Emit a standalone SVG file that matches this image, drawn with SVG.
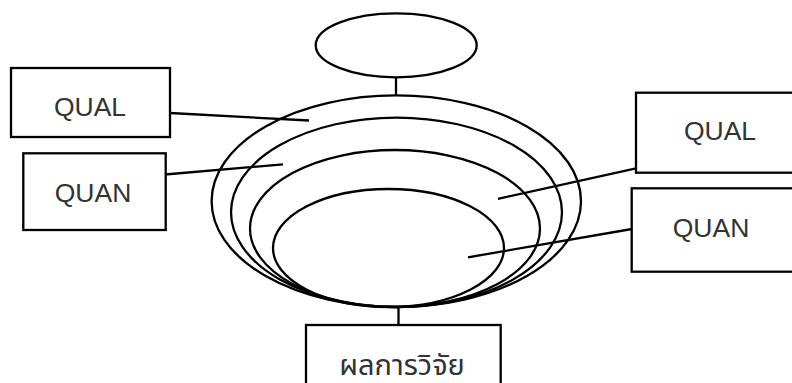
<svg xmlns="http://www.w3.org/2000/svg" width="792" height="383" viewBox="0 0 792 383">
<style>
.s{fill:none;stroke:#000;stroke-width:2.3}
.b{fill:#fff;stroke:#000;stroke-width:2.3}
.t{font-family:"Liberation Sans","Noto Sans Thai","Noto Sans",sans-serif;font-size:26.5px;fill:#333;text-anchor:middle}
.th{font-size:29px}
</style>
<rect width="792" height="383" fill="#fff"/>
<g id="connectors">
<line class="s" x1="396" y1="77" x2="396" y2="96"/>
<line class="s" x1="398.5" y1="306" x2="398.5" y2="326"/>
<line class="s" x1="170" y1="113" x2="309" y2="120.5"/>
<line class="s" x1="165" y1="174.5" x2="283" y2="164.3"/>
<line class="s" x1="636" y1="168.3" x2="498" y2="198.8"/>
<line class="s" x1="632" y1="229" x2="468" y2="257.3"/>
</g>
<g id="top-ellipse"><ellipse class="s" cx="396.2" cy="45.3" rx="80.5" ry="32"/></g>
<g id="ellipse-1"><ellipse class="s" cx="396.3" cy="201.2" rx="184.7" ry="105.8"/></g>
<g id="ellipse-2"><ellipse class="s" cx="396.5" cy="212.3" rx="165.5" ry="94.7"/></g>
<g id="ellipse-3"><ellipse class="s" cx="395" cy="228.5" rx="145" ry="78.5"/></g>
<g id="ellipse-4"><ellipse class="s" cx="388.5" cy="248" rx="115.5" ry="59"/></g>
<g id="qual-left"><rect class="b" x="11" y="68" width="159" height="69"/><text class="t" x="90" y="116">QUAL</text></g>
<g id="quan-left"><rect class="b" x="23.3" y="153.3" width="142.4" height="76.7"/><text class="t" x="93" y="201.5">QUAN</text></g>
<g id="qual-right"><rect class="b" x="636" y="92.7" width="170" height="80"/><text class="t" x="720" y="140">QUAL</text></g>
<g id="quan-right"><rect class="b" x="631.7" y="188.3" width="170" height="83.4"/><text class="t" x="711" y="237">QUAN</text></g>
<g id="result"><rect class="b" x="306" y="325" width="194.7" height="70"/><text class="t th" x="402" y="375">ผลการวิจัย</text></g>
</svg>
